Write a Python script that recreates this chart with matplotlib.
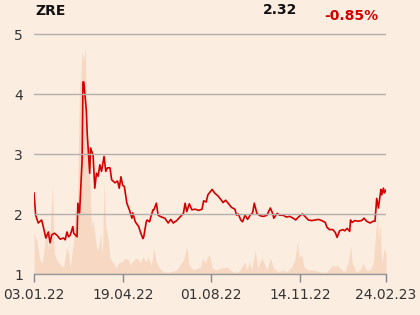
import numpy as np
import pandas as pd
import matplotlib
matplotlib.use("Agg")
import matplotlib.pyplot as plt

# ---- data ----
START = pd.Timestamp("2022-01-03")

# closing price, day offsets from 03.01.22
price_day = [0, 2, 5, 9, 11, 14, 17, 19, 21, 24, 27, 31, 35, 37, 39, 41, 43, 46, 47, 51,
             52, 54, 57, 58, 59, 62, 63, 66, 67, 70, 72, 74, 76, 78, 80, 83, 85, 87, 90, 92,
             96, 99, 101, 103, 105, 107, 110, 113, 116, 117, 120, 124, 126, 129, 130, 133, 134, 137, 138, 141,
             142, 145, 147, 151, 155, 159, 162, 165, 169, 173, 177, 179, 181, 184, 187, 191, 195, 199, 201, 204,
             206, 211, 214, 218, 222, 224, 227, 230, 234, 238, 240, 242, 245, 247, 250, 253, 256, 259, 261, 264,
             268, 272, 276, 280, 283, 284, 288, 291, 295, 299, 303, 307, 310, 314, 318, 321, 325, 329, 333, 337,
             341, 345, 347, 350, 354, 357, 359, 362, 366, 368, 371, 374, 375, 377, 380, 384, 388, 391, 394, 398,
             402, 404, 406, 408, 411, 412, 414, 415, 417]
price = [2.35, 1.98, 1.85, 1.90, 1.79, 1.60, 1.70, 1.52, 1.65, 1.68, 1.65, 1.58, 1.60, 1.57, 1.70, 1.62, 1.65, 1.79, 1.68, 1.62,
         2.18, 2.02, 2.90, 4.20, 4.20, 3.73, 3.35, 2.68, 3.10, 2.98, 2.43, 2.68, 2.63, 2.82, 2.71, 2.96, 2.71, 2.77, 2.77, 2.57,
         2.52, 2.55, 2.43, 2.62, 2.48, 2.46, 2.18, 2.07, 1.93, 2.02, 1.87, 1.79, 1.70, 1.59, 1.62, 1.87, 1.90, 1.87, 1.93, 2.07,
         2.07, 2.18, 1.98, 1.95, 1.93, 1.85, 1.91, 1.85, 1.89, 1.95, 2.01, 2.18, 2.04, 2.17, 2.07, 2.08, 2.06, 2.08, 2.22, 2.20,
         2.32, 2.41, 2.35, 2.30, 2.23, 2.19, 2.23, 2.18, 2.11, 2.08, 1.98, 2.00, 1.90, 1.87, 1.98, 1.91, 1.98, 2.02, 2.18, 2.01,
         1.97, 1.96, 1.98, 2.10, 2.00, 1.93, 2.01, 1.98, 1.98, 1.95, 1.96, 1.93, 1.90, 1.96, 2.00, 1.96, 1.90, 1.89, 1.90, 1.91,
         1.89, 1.86, 1.78, 1.74, 1.74, 1.69, 1.61, 1.72, 1.74, 1.72, 1.76, 1.71, 1.90, 1.86, 1.89, 1.88, 1.89, 1.93, 1.88, 1.85,
         1.88, 1.88, 2.26, 2.10, 2.41, 2.32, 2.43, 2.35, 2.40]

# traded volume (thousand shares), day offsets from 03.01.22
vol_day = [0, 3, 7, 10, 13, 15, 17, 19, 22, 24, 27, 31, 35, 39, 41, 43, 47, 49, 51, 54,
           55, 57, 59, 61, 62, 64, 66, 68, 70, 74, 76, 79, 81, 83, 85, 88, 90, 94, 97, 100,
           104, 108, 112, 114, 118, 122, 126, 129, 133, 135, 139, 142, 145, 148, 153, 161, 169, 177, 181, 184,
           189, 197, 200, 203, 205, 208, 211, 216, 222, 229, 236, 242, 250, 252, 255, 258, 262, 265, 270, 276,
           280, 284, 289, 295, 299, 305, 309, 312, 314, 317, 320, 325, 331, 339, 347, 354, 357, 359, 362, 368,
           372, 375, 377, 382, 386, 390, 393, 398, 402, 405, 407, 408, 410, 412, 415, 417]
volume = [164, 136, 56, 44, 136, 188, 96, 176, 356, 84, 56, 36, 28, 108, 80, 28, 136, 304, 188, 776,
          760, 888, 856, 908, 628, 496, 376, 188, 216, 108, 96, 160, 68, 376, 188, 136, 64, 44, 24, 44,
          48, 64, 56, 36, 56, 64, 44, 68, 48, 68, 36, 104, 48, 28, 8, 8, 16, 56, 108, 36,
          16, 28, 64, 44, 68, 76, 24, 16, 24, 28, 8, 8, 48, 16, 48, 16, 96, 24, 64, 16,
          64, 24, 8, 16, 8, 28, 56, 128, 68, 76, 28, 16, 16, 8, 8, 36, 28, 36, 24, 8,
          44, 116, 44, 8, 16, 44, 16, 16, 44, 176, 236, 136, 204, 44, 104, 80]

ticker = "ZRE"
last_price = "2.32"
change = "-0.85%"
xtick_dates = ["2022-01-03", "2022-04-19", "2022-08-01", "2022-11-14", "2023-02-24"]
xtick_labels = ["03.01.22", "19.04.22", "01.08.22", "14.11.22", "24.02.23"]
ytick_values = [1, 2, 3, 4, 5]

BG = "#fcede1"
LINE = "#d30000"
VOLC = "#f7d7c0"
GRID = "#b4b0ad"

price_dates = START + pd.to_timedelta(price_day, unit="D")
vol_dates = START + pd.to_timedelta(vol_day, unit="D")

fig = plt.figure(figsize=(4.2, 3.15), dpi=100, facecolor=BG)
rect = [34 / 420, 1 - 274 / 315, 352 / 420, 252 / 315]
ax = fig.add_axes(rect)
axv = ax.twinx()
ax.set_zorder(axv.get_zorder() + 1)
ax.patch.set_visible(False)
axv.patch.set_facecolor(BG)
axv.patch.set_visible(True)

# volume area in the background
axv.fill_between(vol_dates, 0, volume, color=VOLC, lw=0, alpha=0.9)
axv.set_ylim(0, 1008)
axv.set_yticks([])
for s in axv.spines.values():
    s.set_visible(False)

# price line
ax.plot(price_dates, price, color=LINE, lw=1.2, solid_joinstyle="round")
ax.set_xlim(pd.Timestamp(xtick_dates[0]), pd.Timestamp(xtick_dates[-1]))
axv.set_xlim(ax.get_xlim())
ax.set_ylim(1, 5.2)
ax.set_yticks(ytick_values)
ax.set_yticklabels([str(v) for v in ytick_values])
ax.yaxis.grid(True, color=GRID, lw=1)
ax.set_axisbelow(False)
ax.tick_params(axis="y", length=0, pad=8, labelsize=10, labelcolor="#333333")
ax.set_xticks(pd.to_datetime(xtick_dates))
ax.set_xticklabels(xtick_labels)
ax.tick_params(axis="x", length=6, width=1, color="#888888", pad=4,
               labelsize=10, labelcolor="#333333")
for side in ["top", "left", "right"]:
    ax.spines[side].set_visible(False)
ax.spines["bottom"].set_color("#999999")
ax.spines["bottom"].set_linewidth(1)

# header
fig.text(35 / 420, 1 - 11 / 315, ticker, fontsize=10, fontweight="bold",
         ha="left", va="center", color="#111111")
fig.text(297 / 420, 1 - 10 / 315, last_price, fontsize=10, fontweight="bold",
         ha="right", va="center", color="#111111")
fig.text(378 / 420, 1 - 16 / 315, change, fontsize=10, fontweight="bold",
         ha="right", va="center", color="#d40000")

fig.savefig("out.png", dpi=100, facecolor=BG)
